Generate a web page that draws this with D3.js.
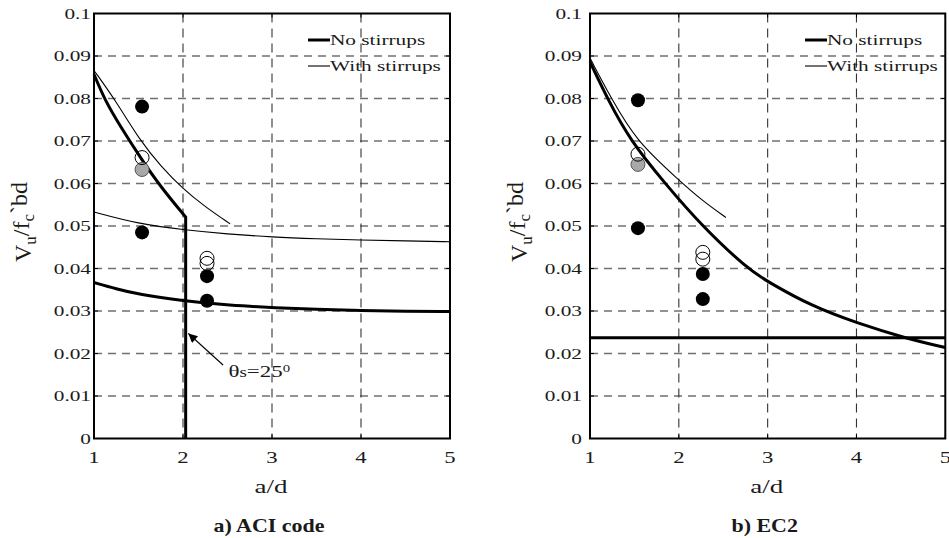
<!DOCTYPE html>
<html>
<head>
<meta charset="utf-8">
<script src="https://cdn.jsdelivr.net/npm/d3@7"></script>
<style>
  html, body { margin: 0; padding: 0; background: #fff; }
  svg { display: block; }
  text { font-family: "Liberation Serif", "Times New Roman", serif; fill: #1a1a1a; }
</style>
</head>
<body>
<svg id="chart" width="949" height="538"></svg>
<script>
// ---- axis ticks ----
const xTicks = [1, 2, 3, 4, 5];
const xTickLabels = ["1", "2", "3", "4", "5"];
const yTicks = [0, 0.01, 0.02, 0.03, 0.04, 0.05, 0.06, 0.07, 0.08, 0.09, 0.1];
const yTickLabels = ["0", "0.01", "0.02", "0.03", "0.04", "0.05", "0.06", "0.07", "0.08", "0.09", "0.1"];
const xGrid = [2, 3, 4];
const yGrid = [0.01, 0.02, 0.03, 0.04, 0.05, 0.06, 0.07, 0.08, 0.09];

// ---- ACI code predictions [a/d, Vu/f'c bd] ----
const aciNoStirrupsStrut = [[1, 0.0857], [1.12, 0.0797], [1.3, 0.0733], [1.54, 0.0655], [1.75, 0.0592], [2.03, 0.0521]];
const aciStrutCutoff = 2.03;
const aciNoStirrupsBeam = [[1, 0.0367], [1.25, 0.0352], [1.5, 0.0339], [2, 0.0324], [2.5, 0.0314], [2.75, 0.0311],
                           [3, 0.0308], [3.5, 0.0304], [4, 0.0301], [4.5, 0.0299], [5, 0.0299]];
const aciWithStirrupsStrut = [[1, 0.0866], [1.24, 0.0796], [1.52, 0.0700], [1.75, 0.0641], [1.99, 0.0589], [2.25, 0.0545], [2.53, 0.0505]];
const aciWithStirrupsBeam = [[1, 0.0533], [1.5, 0.0505], [2, 0.0491], [2.5, 0.0481], [3, 0.0474], [3.5, 0.0470],
                             [4, 0.0467], [4.5, 0.0465], [5, 0.0463]];

// ---- EC2 predictions ----
const ec2NoStirrups = [[1, 0.0886], [1.2, 0.0798], [1.45, 0.0702], [1.845, 0.0600], [2.26, 0.0500], [2.77, 0.0400],
                       [3, 0.0369], [3.5, 0.0311], [4, 0.0272], [4.55, 0.0236], [5, 0.0214]];
const ec2NoStirrupsMinimum = 0.0237;
const ec2WithStirrups = [[1, 0.0895], [1.24, 0.0800], [1.52, 0.0700], [2.0, 0.0608], [2.25, 0.0562], [2.53, 0.0520]];

// ---- test results ----
const aciTestsFilled = [[1.54, 0.0781], [1.54, 0.0485], [2.27, 0.0382], [2.27, 0.0324]];
const aciTestsOpen = [[1.54, 0.0661], [2.27, 0.0424], [2.27, 0.0412]];
const aciTestsGrey = [[1.54, 0.0633]];
const ec2TestsFilled = [[1.54, 0.0796], [1.54, 0.0495], [2.27, 0.0387], [2.27, 0.0328]];
const ec2TestsOpen = [[1.54, 0.0669], [2.27, 0.0438], [2.27, 0.0422]];
const ec2TestsGrey = [[1.54, 0.0645]];

// ---- labels ----
const legendLabels = ["No stirrups", "With stirrups"];
const panelTitles = ["a) ACI code", "b) EC2"];
const xAxisTitle = "a/d";
const strutNote = { tip: [2.06, 0.0247], tail: [2.45, 0.0173], text: [2.51, 0.0145] };

const svg = d3.select("#chart");
const TOP = 13.5, BOTTOM = 438.5;
const STRETCH = 1.42;   // wide rendering of the serif face

function wideText(g, x, y, anchor, size, weight, stretch) {
  return g.append("text")
    .attr("transform", `translate(${x},${y}) scale(${stretch || STRETCH},1)`)
    .attr("text-anchor", anchor)
    .style("font-size", size + "px")
    .style("font-weight", weight || "normal");
}

function drawPanel(cfg) {
  const g = svg.append("g");
  const x = d3.scaleLinear().domain([1, 5]).range([cfg.left, cfg.right]);
  const y = d3.scaleLinear().domain([0, 0.1]).range([BOTTOM, TOP]);
  const line = d3.line().x(d => x(d[0])).y(d => y(d[1])).curve(d3.curveBasis);

  // grid
  g.selectAll(".hg").data(yGrid).join("line")
    .attr("x1", cfg.left).attr("x2", cfg.right)
    .attr("y1", d => y(d)).attr("y2", d => y(d))
    .attr("stroke", "#707070").attr("stroke-width", 1.4).attr("stroke-dasharray", "8,6");
  g.selectAll(".vg").data(xGrid).join("line")
    .attr("x1", d => x(d)).attr("x2", d => x(d))
    .attr("y1", TOP).attr("y2", BOTTOM)
    .attr("stroke", "#333").attr("stroke-width", 1.1).attr("stroke-dasharray", "9,6");

  // curves
  cfg.curves.forEach(c => {
    g.append("path")
      .attr("d", c.path(line, x, y))
      .attr("fill", "none").attr("stroke", "#000")
      .attr("stroke-width", c.thick ? 3 : 1.1)
      .attr("stroke-linejoin", "miter");
  });

  // test markers
  const R = 7;
  g.selectAll(".grey").data(cfg.grey).join("circle")
    .attr("cx", d => x(d[0])).attr("cy", d => y(d[1])).attr("r", R)
    .attr("fill", "#a8a8a8").attr("stroke", "#555").attr("stroke-width", 1);
  g.selectAll(".open").data(cfg.open).join("circle")
    .attr("cx", d => x(d[0])).attr("cy", d => y(d[1])).attr("r", R)
    .attr("fill", "none").attr("stroke", "#000").attr("stroke-width", 1);
  g.selectAll(".filled").data(cfg.filled).join("circle")
    .attr("cx", d => x(d[0])).attr("cy", d => y(d[1])).attr("r", R)
    .attr("fill", "#000");

  // frame and inner ticks
  g.append("rect")
    .attr("x", cfg.left).attr("y", TOP)
    .attr("width", cfg.right - cfg.left).attr("height", BOTTOM - TOP)
    .attr("fill", "none").attr("stroke", "#000").attr("stroke-width", 2);
  const tk = 4;
  xTicks.forEach(t => {
    g.append("line").attr("x1", x(t)).attr("x2", x(t)).attr("y1", BOTTOM).attr("y2", BOTTOM - tk).attr("stroke", "#000");
    g.append("line").attr("x1", x(t)).attr("x2", x(t)).attr("y1", TOP).attr("y2", TOP + tk).attr("stroke", "#000");
  });
  yTicks.forEach(t => {
    g.append("line").attr("x1", cfg.left).attr("x2", cfg.left + tk).attr("y1", y(t)).attr("y2", y(t)).attr("stroke", "#000");
    g.append("line").attr("x1", cfg.right).attr("x2", cfg.right - tk).attr("y1", y(t)).attr("y2", y(t)).attr("stroke", "#000");
  });

  // tick labels
  xTicks.forEach((t, i) => wideText(g, x(t), 463, "middle", 16).text(xTickLabels[i]));
  yTicks.forEach((t, i) => wideText(g, cfg.left - cfg.labelGap, y(t) + 5, "end", 15).text(yTickLabels[i]));

  // axis titles
  wideText(g, (cfg.left + cfg.right) / 2 - 1, 493, "middle", 19).text(xAxisTitle);
  const yl = g.append("text")
    .attr("transform", `translate(${cfg.left - 63},${(TOP + BOTTOM) / 2 - 4}) rotate(-90)`)
    .attr("text-anchor", "middle")
    .style("font-size", "24px");
  yl.append("tspan").text("V");
  yl.append("tspan").attr("dy", "0.3em").style("font-size", "17px").text("u");
  yl.append("tspan").attr("dy", "-0.3em").text("/f");
  yl.append("tspan").attr("dy", "0.3em").style("font-size", "17px").text("c");
  yl.append("tspan").attr("dy", "-0.3em").text("`bd");

  // panel title
  wideText(g, (cfg.left + cfg.right) / 2 - 3, 532, "middle", 18, "bold", 1.22).text(cfg.title);

  // legend
  const lx = cfg.legendX;
  [[40, 3], [66, 1.1]].forEach(([ly, w], i) => {
    g.append("line").attr("x1", lx).attr("x2", lx + 22).attr("y1", ly).attr("y2", ly)
      .attr("stroke", "#000").attr("stroke-width", w);
    wideText(g, lx + 22, ly + 5, "start", 15).text(legendLabels[i]);
  });

  if (cfg.note) cfg.note(g, x, y);
}

// arrowhead
svg.append("defs").append("marker")
  .attr("id", "arrow").attr("viewBox", "0 0 10 10").attr("refX", 10).attr("refY", 5)
  .attr("markerWidth", 13).attr("markerHeight", 9).attr("markerUnits", "userSpaceOnUse")
  .attr("orient", "auto")
  .append("path").attr("d", "M0,0 L10,5 L0,10 Z").attr("fill", "#000");

drawPanel({
  left: 94, right: 450, labelGap: 3, legendX: 308, title: panelTitles[0],
  curves: [
    { thick: true, path: (line, x, y) => line(aciNoStirrupsStrut) + `L${x(aciStrutCutoff)},${y(0)}` },
    { thick: true, path: (line) => line(aciNoStirrupsBeam) },
    { thick: false, path: (line) => line(aciWithStirrupsStrut) },
    { thick: false, path: (line) => line(aciWithStirrupsBeam) }
  ],
  filled: aciTestsFilled, open: aciTestsOpen, grey: aciTestsGrey,
  note: (g, x, y) => {
    g.append("line")
      .attr("x1", x(strutNote.tail[0])).attr("y1", y(strutNote.tail[1]))
      .attr("x2", x(strutNote.tip[0])).attr("y2", y(strutNote.tip[1]))
      .attr("stroke", "#000").attr("stroke-width", 1.1).attr("marker-end", "url(#arrow)");
    const t = wideText(g, x(strutNote.text[0]), y(strutNote.text[1]), "start", 17, "normal", 1.35);
    t.append("tspan").text("θ");
    t.append("tspan").style("font-size", "14px").text("s");
    t.append("tspan").text("=25");
    t.append("tspan").attr("dy", "-0.45em").style("font-size", "11px").text("0");
  }
});

drawPanel({
  left: 590, right: 945.3, labelGap: 8, legendX: 805, title: panelTitles[1],
  curves: [
    { thick: true, path: (line) => line(ec2NoStirrups) },
    { thick: true, path: (line) => line([[1, ec2NoStirrupsMinimum], [5, ec2NoStirrupsMinimum]]) },
    { thick: false, path: (line) => line(ec2WithStirrups) }
  ],
  filled: ec2TestsFilled, open: ec2TestsOpen, grey: ec2TestsGrey
});
</script>
</body>
</html>
